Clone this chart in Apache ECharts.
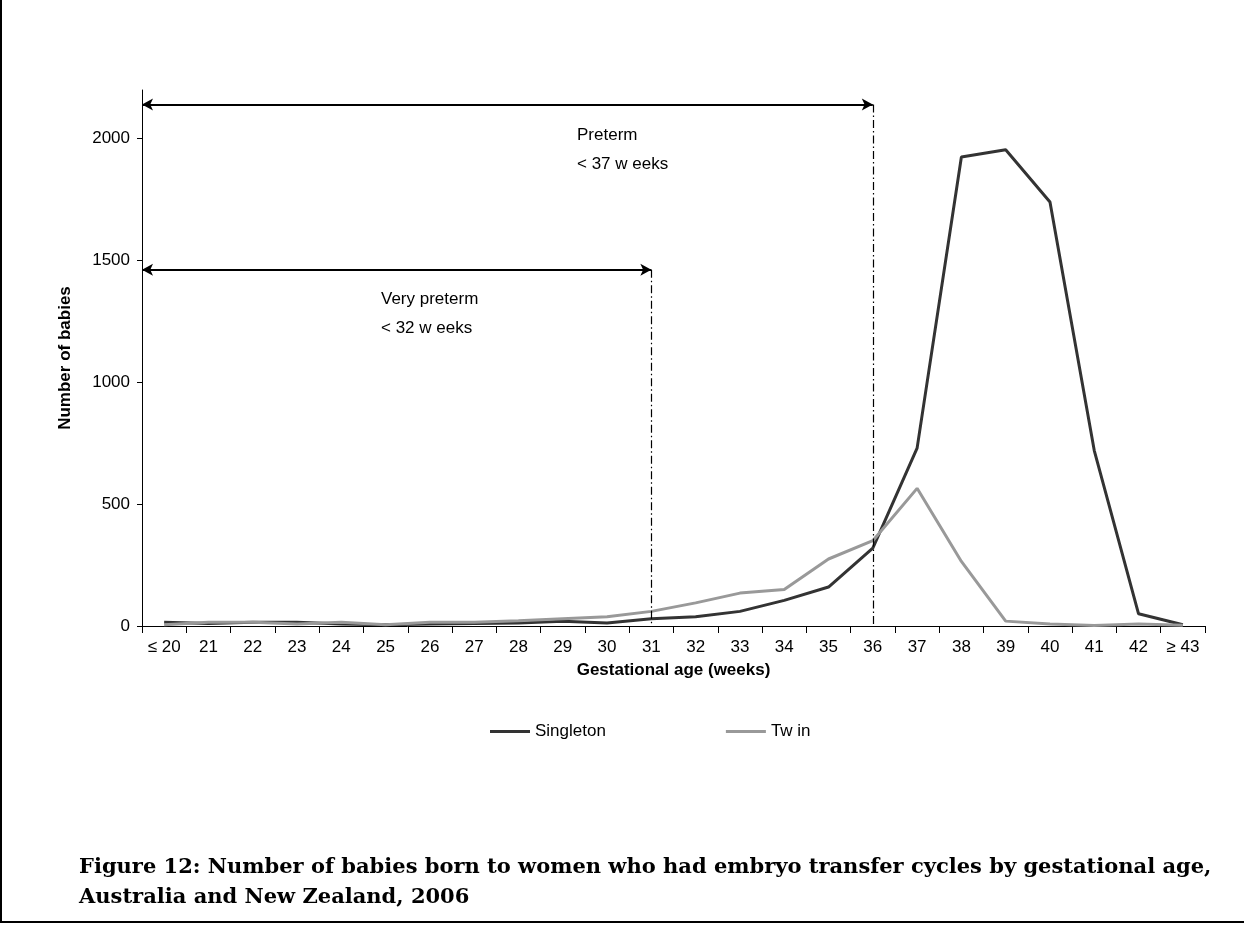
<!DOCTYPE html>
<html>
<head>
<meta charset="utf-8">
<script src="https://cdn.jsdelivr.net/npm/echarts@6/dist/echarts.min.js"></script>
<style>
  html, body { margin: 0; padding: 0; background: #fff; }
  #chart { width: 1244px; height: 925px; }
</style>
</head>
<body>
<div id="chart"></div>
<script>
// gestational age categories (weeks)
const weeks = ['≤ 20', '21', '22', '23', '24', '25', '26', '27', '28', '29', '30', '31',
  '32', '33', '34', '35', '36', '37', '38', '39', '40', '41', '42', '≥ 43']
// number of babies
const singleton = [15, 10, 15, 15, 8, 5, 8, 10, 12, 20, 12, 30,
  38, 60, 105, 160, 320, 730, 1925, 1955, 1740, 720, 50, 5]
const twin = [5, 15, 15, 8, 15, 5, 15, 15, 22, 30, 38, 60,
  95, 135, 150, 275, 350, 565, 265, 20, 8, 2, 8, 3]
const yTicks = [0, 500, 1000, 1500, 2000]

// preterm bands: x in category units from the y axis, y = height of the arrow
const pretermX = 16.5
const pretermY = 2140
const veryPretermX = 11.5
const veryPretermY = 1462

const chart = echarts.init(document.getElementById('chart'))
const txt = { fontFamily: 'Liberation Sans, Arial, sans-serif', color: '#000' }

const arrowStyle = { color: '#000', width: 2, type: 'solid' }
const dashStyle = { color: '#000', width: 1.2, type: [8, 3, 1.5, 3] }

const option = {
  backgroundColor: '#fff',
  animation: false,
  title: {
    text: 'Figure 12: Number of babies born to women who had embryo transfer cycles by gestational age,\nAustralia and New Zealand, 2006',
    left: 74,
    top: 848,
    textStyle: {
      fontFamily: 'DejaVu Serif, serif',
      fontWeight: 'bold',
      fontSize: 21,
      lineHeight: 30,
      color: '#000'
    }
  },
  legend: {
    left: 485,
    top: 718,
    itemGap: 120,
    itemWidth: 40,
    itemHeight: 3,
    icon: 'rect',
    textStyle: Object.assign({ fontSize: 17 }, txt),
    data: ['Singleton', 'Tw in']
  },
  grid: { left: 142, right: 39, top: 90, bottom: 299, containLabel: false },
  xAxis: [
    {
      type: 'category',
      data: weeks,
      boundaryGap: true,
      name: 'Gestational age (weeks)',
      nameLocation: 'middle',
      nameGap: 36,
      nameTextStyle: Object.assign({ fontSize: 17, fontWeight: 'bold' }, txt),
      axisLine: { lineStyle: { color: '#000', width: 1 } },
      axisTick: { show: true, alignWithLabel: false, length: 7, lineStyle: { color: '#000' } },
      axisLabel: Object.assign({ interval: 0, fontSize: 17, margin: 13 }, txt),
      splitLine: { show: false }
    },
    {
      type: 'value',
      min: 0,
      max: weeks.length,
      show: false
    }
  ],
  yAxis: {
    type: 'value',
    min: 0,
    max: 2200,
    interval: 500,
    name: 'Number of babies',
    nameLocation: 'middle',
    nameGap: 68,
    nameTextStyle: Object.assign({ fontSize: 17, fontWeight: 'bold' }, txt),
    axisLine: { show: true, lineStyle: { color: '#000', width: 1 } },
    axisTick: { show: true, length: 5, customValues: yTicks, lineStyle: { color: '#000' } },
    axisLabel: Object.assign({
      fontSize: 17,
      margin: 12,
      customValues: yTicks,
      formatter: v => String(v)
    }, txt),
    splitLine: { show: false }
  },
  series: [
    {
      name: 'Singleton',
      type: 'line',
      data: singleton,
      symbol: 'none',
      color: '#333333',
      lineStyle: { width: 3, color: '#333333' }
    },
    {
      name: 'Tw in',
      type: 'line',
      data: twin,
      symbol: 'none',
      color: '#999999',
      lineStyle: { width: 3, color: '#999999' }
    },
    {
      // annotation layer on the hidden value x axis
      name: 'bands',
      type: 'line',
      xAxisIndex: 1,
      data: [],
      silent: true,
      markLine: {
        silent: true,
        animation: false,
        label: { show: false },
        emphasis: { disabled: true },
        data: [
          [
            { coord: [0, pretermY], symbol: 'arrow', symbolSize: [9, 11], lineStyle: arrowStyle },
            { coord: [pretermX, pretermY], symbol: 'arrow', symbolSize: [9, 11] }
          ],
          [
            { coord: [0, veryPretermY], symbol: 'arrow', symbolSize: [9, 11], lineStyle: arrowStyle },
            { coord: [veryPretermX, veryPretermY], symbol: 'arrow', symbolSize: [9, 11] }
          ],
          [
            { coord: [pretermX, pretermY], symbol: 'none', lineStyle: dashStyle },
            { coord: [pretermX, 0], symbol: 'none' }
          ],
          [
            { coord: [veryPretermX, veryPretermY], symbol: 'none', lineStyle: dashStyle },
            { coord: [veryPretermX, 0], symbol: 'none' }
          ]
        ]
      }
    }
  ]
}
chart.setOption(option)

// band labels and page frame
const px = (x, y) => chart.convertToPixel({ xAxisIndex: 1, yAxisIndex: 0 }, [x, y])
const p1 = px(0, pretermY)
const p2 = px(0, veryPretermY)
chart.setOption({
  graphic: [
    {
      type: 'text', left: 577, top: p1[1] + 16,
      style: { text: 'Preterm\n< 37 w eeks', font: '17px Liberation Sans', lineHeight: 29, fill: '#000' }
    },
    {
      type: 'text', left: 381, top: p2[1] + 15,
      style: { text: 'Very preterm\n< 32 w eeks', font: '17px Liberation Sans', lineHeight: 29, fill: '#000' }
    },
    { type: 'line', shape: { x1: 1, y1: 0, x2: 1, y2: 923 }, style: { stroke: '#000', lineWidth: 2 } },
    { type: 'line', shape: { x1: 0, y1: 922, x2: 1244, y2: 922 }, style: { stroke: '#000', lineWidth: 2 } }
  ]
})
</script>
</body>
</html>
